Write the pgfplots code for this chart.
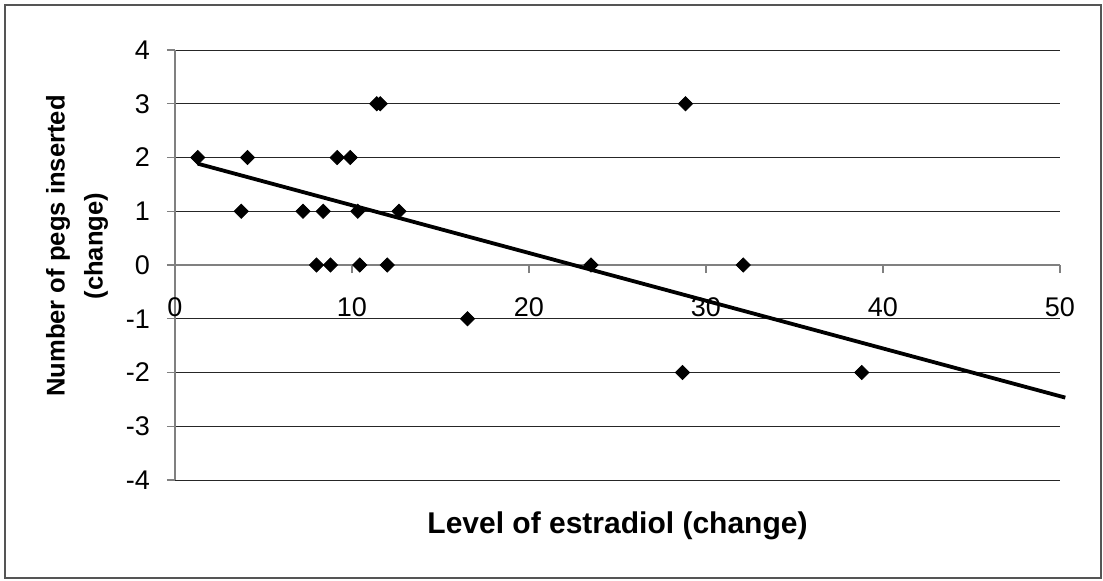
\documentclass[border=0pt]{standalone}
\usepackage{fontspec}
\setmainfont{Liberation Sans}
\usepackage{pgfplots}
\pgfplotsset{compat=1.18}
\definecolor{axisgray}{HTML}{808080}
\definecolor{framegray}{HTML}{555555}
\begin{document}
\begin{tikzpicture}
% chart area frame and page extent
\path[use as bounding box] (-87.5pt,-50pt) rectangle (464pt,240pt);
\draw[framegray, line width=1pt] (-85pt,-49pt) rectangle (463pt,237.5pt);
\begin{axis}[
  at={(0pt,0pt)}, anchor=south west,
  scale only axis, width=442.5pt, height=215pt,
  xmin=0, xmax=50, ymin=-4, ymax=4,
  axis x line*=middle, axis y line*=left,
  hide obscured x ticks=false, hide obscured y ticks=false,
  xtick={0,10,...,50}, ytick={-4,-3,...,4},
  ymajorgrids, grid style={black!85, line width=0.5pt},
  axis line style={axisgray, line width=0.6pt},
  tick style={axisgray, line width=0.6pt},
  tick align=outside, major tick length=4pt,
  /pgf/number format/assume math mode=true,
  tick label style={font=\fontsize{13.5}{16}\selectfont},
  xticklabel style={anchor=center, yshift=-17pt},
  yticklabel style={anchor=east, xshift=-5pt},
  xlabel={Level of estradiol (change)},
  xlabel style={at={(axis description cs:0.5,-0.107)}, anchor=center,
    font=\fontsize{15}{17}\selectfont\bfseries},
  ylabel={Number of pegs inserted\\(change)},
  ylabel style={at={(axis description cs:-0.1108,0.544)}, anchor=center,
    align=center, font=\fontsize{12.8}{19}\selectfont\bfseries},
  clip=false,
]
% observations
\addplot[only marks, mark=square*, mark size=2.5pt,
  mark options={rotate=45, fill=black, draw=black}] coordinates {
  (1.29,2) (4.1,2) (9.16,2) (9.9,2)
  (11.4,3) (11.6,3) (28.84,3)
  (3.74,1) (7.23,1) (8.37,1) (10.33,1) (12.65,1)
  (7.99,0) (8.78,0) (10.44,0) (11.99,0) (23.5,0) (32.1,0)
  (16.53,-1)
  (28.67,-2) (38.8,-2)
};
% linear trend line
\addplot[black, line width=1.9pt] coordinates {(1.29,1.885) (50.3,-2.467)};
\end{axis}
\end{tikzpicture}
\end{document}
